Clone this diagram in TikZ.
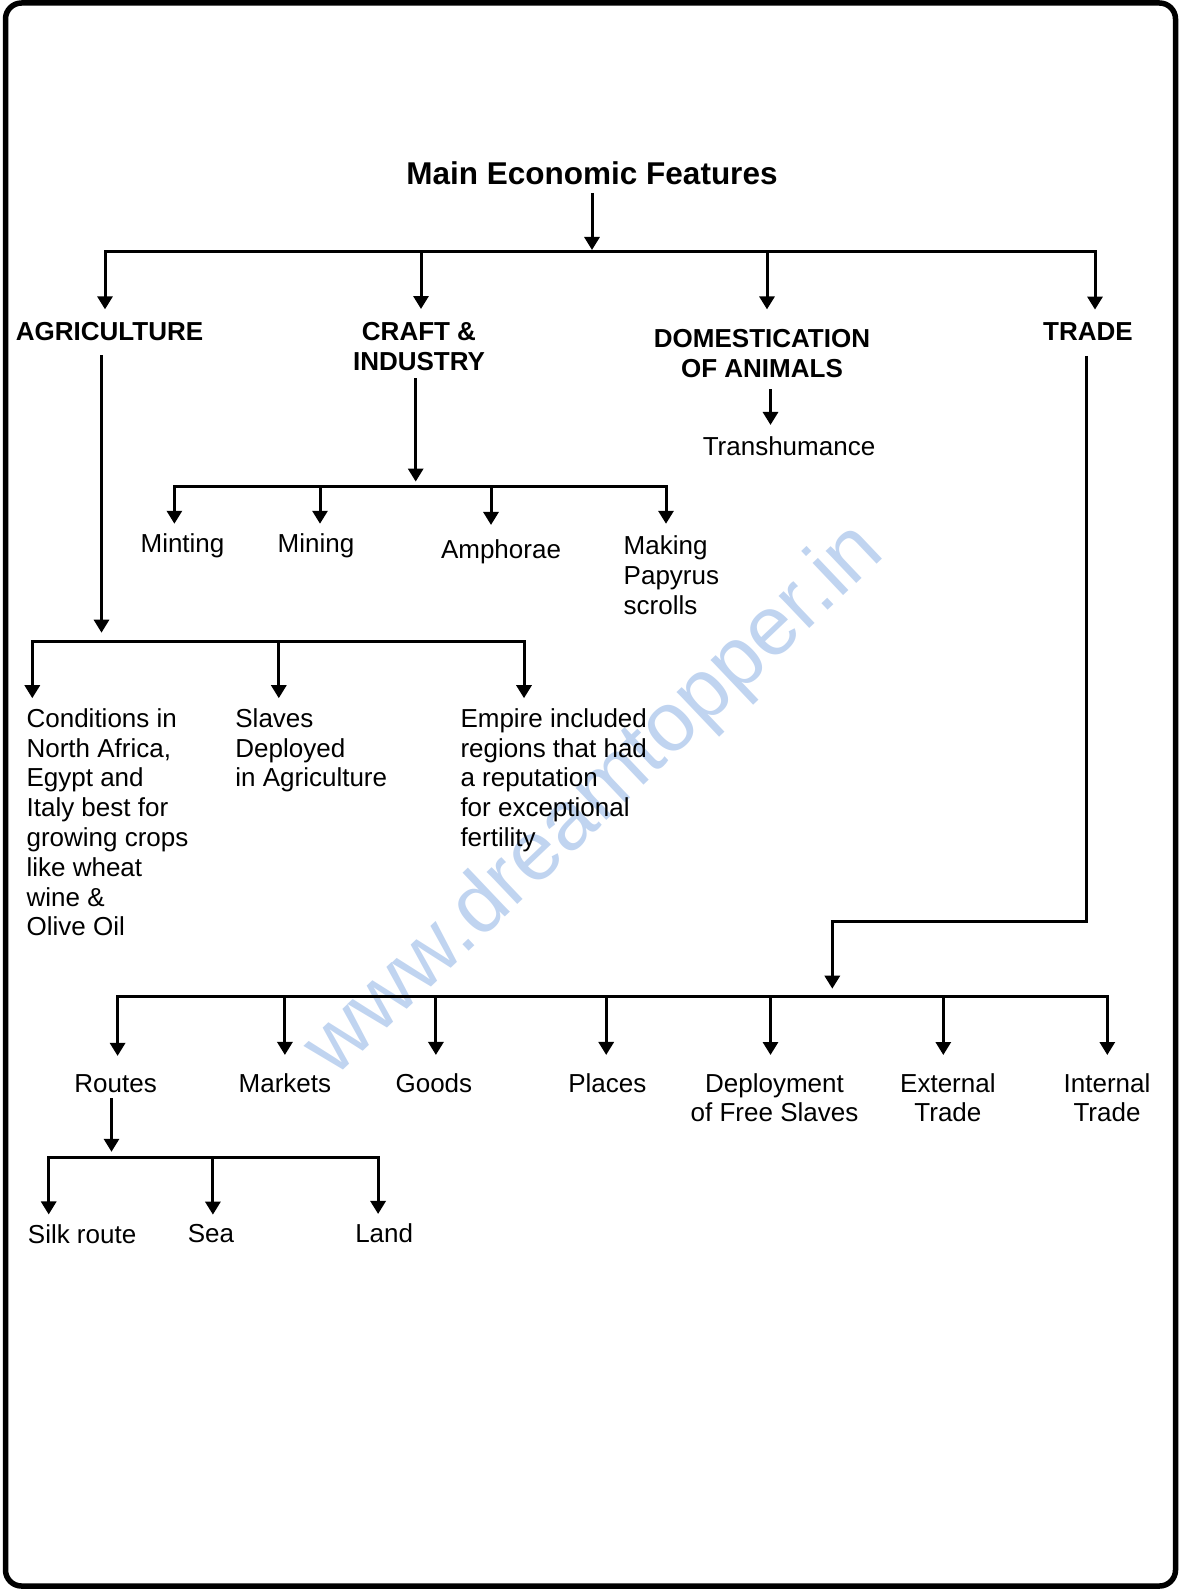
\documentclass[tikz,border=0pt]{standalone}
\usepackage{fontspec}
\setmainfont{Liberation Sans}
\usetikzlibrary{arrows.meta}
\definecolor{wm}{RGB}{192,212,240}
\begin{document}
\begin{tikzpicture}[x=1pt,y=-1pt,
  every node/.style={inner sep=0pt, font=\fontsize{26}{29.8}\selectfont},
  hd/.style={font=\fontsize{26}{29.8}\selectfont\bfseries, align=center},
  txt/.style={align=left, anchor=north west},
  ctxt/.style={align=center, anchor=north},
  ln/.style={line width=3pt},
  bus/.style={ln, line cap=rect},
  arr/.style={ln, -{Triangle[length=13pt,width=15pt]}}]
\useasboundingbox (0,0) rectangle (1179,1589);
% watermark
\node[rotate=43.5, text=wm, font=\fontsize{84}{90}\selectfont] (wmk) at (595.6,801) {www.dreamtopper.in};
% frame
\draw[line width=5.5pt, rounded corners=16pt] (5.5,3) rectangle (1175.5,1586);

% nodes
\node[font=\fontsize{31.5}{36}\selectfont\bfseries, anchor=base] (title) at (592,184.3) {Main Economic Features};
\node[hd, anchor=base] (agri) at (109.5,340.7) {AGRICULTURE};
\node[hd, anchor=north] (craft) at (419,322) {CRAFT \&\\INDUSTRY};
\node[hd, anchor=north] (dom) at (762,329.4) {DOMESTICATION\\OF ANIMALS};
\node[hd, anchor=base] (trade) at (1088,340.7) {TRADE};
\node[anchor=base] (trans) at (789,455.5) {Transhumance};

\node[anchor=base] (mint) at (182.5,552.8) {Minting};
\node[anchor=base] (mine) at (316,552.8) {Mining};
\node[anchor=base] (amph) at (501,558) {Amphorae};
\node[txt] (papy) at (623.5,535.8) {Making\\Papyrus\\scrolls};

\node[txt] (cond) at (26.4,708.2) {Conditions in\\North Africa,\\Egypt and\\Italy best for\\growing crops\\like wheat\\wine \&\\Olive Oil};
\node[txt] (slav) at (235.2,708.2) {Slaves\\Deployed\\in Agriculture};
\node[txt] (emp) at (460.3,708.2) {Empire included\\regions that had\\a reputation\\for exceptional\\fertility};

\node[anchor=base] (rout) at (115.6,1092) {Routes};
\node[anchor=base] (mark) at (284.9,1092) {Markets};
\node[anchor=base] (good) at (433.9,1092) {Goods};
\node[anchor=base] (plac) at (607.3,1092) {Places};
\node[ctxt] (depl) at (774.5,1073) {Deployment\\of Free Slaves};
\node[ctxt] (extr) at (947.9,1073) {External\\Trade};
\node[ctxt] (intr) at (1107,1073) {Internal\\Trade};

\node[anchor=base] (silk) at (82.1,1243) {Silk route};
\node[anchor=base] (sea) at (210.9,1242) {Sea};
\node[anchor=base] (land) at (384.2,1242) {Land};

% coordinates of bars
\coordinate (m1) at (105,252);
\coordinate (m2) at (421,252);
\coordinate (m3) at (767,252);
\coordinate (m4) at (1095,252);
\coordinate (aj) at (101.5,641.7);
\coordinate (a1) at (32.3,641.7);
\coordinate (a2) at (278.8,641.7);
\coordinate (a3) at (524,641.7);
\coordinate (cj) at (415.7,486.6);
\coordinate (c1) at (174.4,486.6);
\coordinate (c2) at (320,486.6);
\coordinate (c3) at (491,486.6);
\coordinate (c4) at (666,486.6);
\coordinate (tc1) at (1086,921.7);
\coordinate (tc2) at (832.3,921.7);
\coordinate (tj) at (832.3,996.7);
\coordinate (b1) at (117.6,996.7);
\coordinate (b2) at (284.9,996.7);
\coordinate (b3) at (435.9,996.7);
\coordinate (b4) at (606.2,996.7);
\coordinate (b5) at (770.5,996.7);
\coordinate (b6) at (943.3,996.7);
\coordinate (b7) at (1107.3,996.7);
\coordinate (rj) at (111.5,1157.8);
\coordinate (r1) at (48.7,1157.8);
\coordinate (r2) at (212.9,1157.8);
\coordinate (r3) at (378.1,1157.8);

% main level
\draw[arr, shorten <=8pt, shorten >=2pt] (title.south) -- (title.south |- m1);
\draw[bus] (m1) -- (m4);
\draw[arr, shorten >=13pt] (m1) -- (m1 |- agri.north);
\draw[arr, shorten >=13pt] (m2) -- (m2 |- craft.north);
\draw[arr, shorten >=20pt] (m3) -- (m3 |- dom.north);
\draw[arr, shorten >=13pt] (m4) -- (m4 |- trade.north);

% agriculture
\draw[arr, shorten <=14pt, shorten >=9pt] (aj |- agri.south) -- (aj);
\draw[bus] (a1) -- (a3);
\draw[arr, shorten >=10pt] (a1) -- (a1 |- cond.north);
\draw[arr, shorten >=10pt] (a2) -- (a2 |- slav.north);
\draw[arr, shorten >=10pt] (a3) -- (a3 |- emp.north);

% craft
\draw[arr, shorten <=7.5pt, shorten >=5pt] (cj |- craft.south) -- (cj);
\draw[bus] (c1) -- (c4);
\draw[arr, shorten >=10pt] (c1) -- (c1 |- mint.north);
\draw[arr, shorten >=10pt] (c2) -- (c2 |- mine.north);
\draw[arr, shorten >=14pt] (c3) -- (c3 |- amph.north);
\draw[arr, shorten >=12pt] (c4) -- (c4 |- papy.north);

% domestication
\draw[arr] ([xshift=8.5pt,yshift=-11pt]dom.south) -- ([xshift=-18.5pt,yshift=11.5pt]trans.north);

% trade
\draw[arr, shorten <=15pt, shorten >=8pt] (tc1 |- trade.south) -- (tc1) -- (tc2) -- (tj);
\draw[bus] (b1) -- (b7);
\draw[arr, shorten >=18pt] (b1) -- (b1 |- rout.north);
\draw[arr, shorten >=18pt] (b2) -- (b2 |- mark.north);
\draw[arr, shorten >=18pt] (b3) -- (b3 |- good.north);
\draw[arr, shorten >=18pt] (b4) -- (b4 |- plac.north);
\draw[arr, shorten >=18pt] (b5) -- (b5 |- depl.north);
\draw[arr, shorten >=18pt] (b6) -- (b6 |- extr.north);
\draw[arr, shorten >=18pt] (b7) -- (b7 |- intr.north);

% routes
\draw[arr, shorten <=6pt, shorten >=6pt] (rj |- rout.south) -- (rj);
\draw[bus] (r1) -- (r3);
\draw[arr, shorten >=9.5pt] (r1) -- (r1 |- silk.north);
\draw[arr, shorten >=9pt] (r2) -- (r2 |- sea.north);
\draw[arr, shorten >=9pt] (r3) -- (r3 |- land.north);
\end{tikzpicture}
\end{document}
